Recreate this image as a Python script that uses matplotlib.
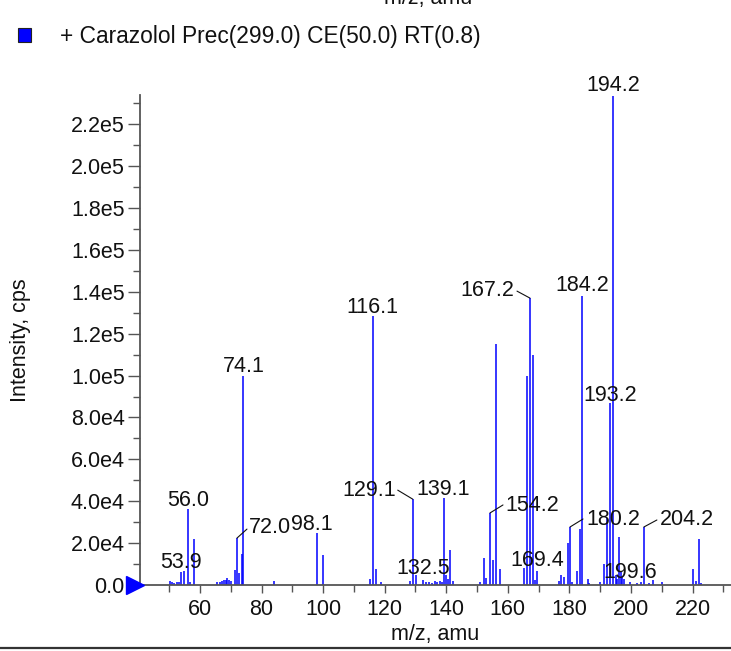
"""MS/MS product-ion spectrum of carazolol, redrawn as a stick plot."""
import matplotlib
matplotlib.use("Agg")
import matplotlib.pyplot as plt
from matplotlib.lines import Line2D
from matplotlib.ticker import MultipleLocator, FuncFormatter
import matplotlib.transforms as mtransforms

plt.rcParams["font.family"] = ["Liberation Sans", "DejaVu Sans"]

BLUE = "#0000ff"
INK = "#111111"
AXIS = "#555555"

# peaks: m/z and intensity (cps)
mz = [50.3, 51.0, 51.7, 52.4, 53.1, 53.9, 54.8, 56.0, 56.6, 58.0,
      65.6, 66.4, 67.2, 67.8, 68.3, 68.7, 69.3, 70.0, 71.4, 72.0, 72.7, 73.6, 74.1,
      84.0, 98.1, 100.1,
      115.2, 116.1, 117.1, 118.9,
      128.3, 129.1, 130.2, 132.5, 133.4, 134.5, 135.3, 136.2, 137.0, 137.8, 138.5,
      139.1, 140.0, 140.5, 141.2, 142.2,
      150.8, 152.3, 153.0, 154.2, 155.1, 156.2, 157.6,
      165.3, 166.2, 167.2, 168.1, 168.9, 169.4,
      176.5, 177.4, 178.1, 179.4, 180.2, 181.0, 182.6, 183.3, 184.2, 185.9, 186.5,
      189.8, 191.3, 192.2, 193.2, 194.2, 195.0, 195.5, 196.2, 196.7, 197.1, 197.6,
      199.6, 202.0, 203.2, 204.2, 205.9, 207.0, 210.0,
      220.3, 221.0, 222.2, 222.8]
intensity = [1900, 1200, 1000, 1300, 1500, 6200, 6700, 36300, 1400, 22000,
             1500, 1300, 1800, 2500, 2200, 3300, 2400, 2000, 7200, 22400, 5700, 15000, 99800,
             1900, 24800, 14300,
             3000, 128400, 7600, 1500,
             2000, 41000, 4800, 2400, 1200, 1600, 1000, 1800, 1400, 2000, 1500,
             41500, 4800, 3000, 16700, 2000,
             1500, 13000, 3300, 34400, 12000, 115000, 7600,
             8000, 100000, 137000, 110000, 2500, 6700,
             2000, 5000, 4000, 20000, 27700, 1500, 6700, 26700, 137900, 3000, 1000,
             1500, 10000, 32000, 87000, 233400, 5000, 3000, 23000, 6000, 4000, 3000,
             1500, 1000, 1500, 27700, 1000, 2500, 1500,
             7600, 2000, 22000, 1000]

# labelled peaks: text, m/z, intensity
lab_txt = ["194.2", "184.2", "116.1", "74.1", "193.2", "139.1", "56.0", "98.1",
           "53.9", "132.5", "169.4", "199.6"]
lab_mz = [194.2, 184.2, 116.1, 74.1, 193.2, 139.1, 56.0, 98.1,
          53.9, 132.5, 169.4, 199.6]
lab_int = [233400, 137900, 128400, 99800, 87000, 41500, 36300, 24800,
           6200, 2400, 6700, 1500]

# labels with a leader line
lead_txt = ["167.2", "129.1", "154.2", "180.2", "204.2", "72.0"]
lead_mz = [167.2, 129.1, 154.2, 180.2, 204.2, 72.0]
lead_int = [137000, 41000, 34400, 27700, 27700, 22400]

fig = plt.figure(figsize=(7.31, 6.51), dpi=100)
ax = fig.add_axes([140 / 731, 1 - 585 / 651, 1 - 140 / 731, (585 - 95) / 651])

ax.vlines(mz, 0, intensity, color=BLUE, lw=1.1)
ax.set_xlim(40.5, 232.5)
ax.set_ylim(0, 2.34e5)

ax.xaxis.set_major_locator(MultipleLocator(20))
ax.xaxis.set_minor_locator(MultipleLocator(10))
ax.yaxis.set_major_locator(MultipleLocator(2e4))
ax.yaxis.set_minor_locator(MultipleLocator(1e4))


def yfmt(v, pos):
    if v == 0:
        return "0.0"
    e = len(str(int(round(v)))) - 1
    return f"{v / 10 ** e:.1f}e{e}"


ax.yaxis.set_major_formatter(FuncFormatter(yfmt))
ax.tick_params(which="both", direction="out", color=AXIS, labelsize=15.5,
               labelcolor=INK, width=1)
ax.tick_params(axis="y", which="major", length=9, pad=2)
ax.tick_params(axis="y", which="minor", length=5)
ax.tick_params(axis="x", which="major", length=6, pad=4)
ax.tick_params(axis="x", which="minor", length=5)
for s in ("top", "right"):
    ax.spines[s].set_visible(False)
for s in ("left", "bottom"):
    ax.spines[s].set_color(AXIS)
    ax.spines[s].set_linewidth(1.3)

ax.set_xlabel("m/z, amu", fontsize=15.5, color=INK, labelpad=3)
ax.set_ylabel("Intensity, cps", fontsize=15.5, color=INK)
ax.yaxis.set_label_coords(-(140 - 31) / 591, 0.5)

# plain labels above peaks
lab_dx = [0, 0, 0, 0, 0, 0, 0, -5, 0, 0, 0, 0]
lab_dy = [5, 5, 3, 4, 2, 3, 3, 3, 4, 6, 5, 4]
for t, x, y, dx, dy in zip(lab_txt, lab_mz, lab_int, lab_dx, lab_dy):
    ax.annotate(t, xy=(x, y), xytext=(dx, dy), textcoords="offset pixels",
                ha="center", va="baseline", fontsize=15.5, color=INK)

# labels with leader lines (offsets in pixels, y up)
lead_tx = [-16, -17, 15, 16, 16, 12]
lead_ty = [2, 3, 2, 2, 2, 5]
lead_lx = [-13, -15, 13, 13, 13, 10]
lead_ly = [7, 9, 8, 8, 7, 9]
lead_ha = ["right", "right", "left", "left", "left", "left"]
for t, x, y, tx, ty, lx, ly, ha in zip(lead_txt, lead_mz, lead_int, lead_tx,
                                       lead_ty, lead_lx, lead_ly, lead_ha):
    ax.annotate(t, xy=(x, y), xytext=(tx, ty), textcoords="offset pixels",
                ha=ha, va="baseline", fontsize=15.5, color=INK)
    ax.annotate("", xy=(x, y), xytext=(lx, ly), textcoords="offset pixels",
                arrowprops=dict(arrowstyle="-", color=INK, lw=0.8,
                                shrinkA=0, shrinkB=0))

# zero marker at the left of the axis
trans = mtransforms.blended_transform_factory(ax.transAxes, ax.transData)
ax.plot([-0.009], [0], marker=">", ms=13, color=BLUE, transform=trans,
        clip_on=False, zorder=5)

# legend square and sample text
fig.patches.append(plt.Rectangle((18 / 731, 1 - 42 / 651), 13 / 731, 14 / 651,
                                 transform=fig.transFigure, facecolor=BLUE,
                                 edgecolor="#222222", lw=0.8))
fig.text(60 / 731, 1 - 37 / 651, "+ Carazolol Prec(299.0) CE(50.0) RT(0.8)",
         ha="left", va="center", fontsize=16.4, color=INK)

# x-axis title from the panel above, mostly cut off
fig.text(428 / 731, 1 - 4 / 651, "m/z, amu", ha="center", va="baseline",
         fontsize=15.5, color=INK)

# frame line at the bottom
fig.add_artist(Line2D([0, 1], [1 - 648 / 651] * 2, transform=fig.transFigure,
                      color="#333333", lw=1.6))

fig.savefig("out.png", dpi=100, facecolor="white")
